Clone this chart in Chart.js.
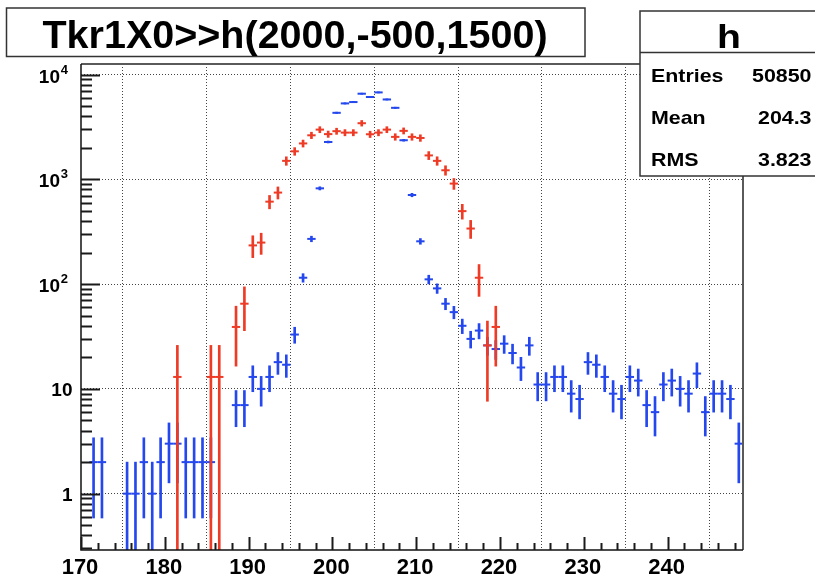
<!DOCTYPE html>
<html>
<head>
<meta charset="utf-8">
<title>Tkr1X0&gt;&gt;h(2000,-500,1500)</title>
<script src="https://cdn.jsdelivr.net/npm/chart.js@4/dist/chart.umd.min.js"></script>
<style>
  html, body { margin: 0; padding: 0; background: #fff; }
</style>
</head>
<body>
<canvas id="myChart" width="815" height="577"></canvas>
<script>
// histogram h, bins 1 unit wide, centres from 170.5 to 248.5
const binCenters = [
  170.5, 171.5, 172.5, 173.5, 174.5, 175.5, 176.5, 177.5, 178.5, 179.5,
  180.5, 181.5, 182.5, 183.5, 184.5, 185.5, 186.5, 187.5, 188.5, 189.5,
  190.5, 191.5, 192.5, 193.5, 194.5, 195.5, 196.5, 197.5, 198.5, 199.5,
  200.5, 201.5, 202.5, 203.5, 204.5, 205.5, 206.5, 207.5, 208.5, 209.5,
  210.5, 211.5, 212.5, 213.5, 214.5, 215.5, 216.5, 217.5, 218.5, 219.5,
  220.5, 221.5, 222.5, 223.5, 224.5, 225.5, 226.5, 227.5, 228.5, 229.5,
  230.5, 231.5, 232.5, 233.5, 234.5, 235.5, 236.5, 237.5, 238.5, 239.5,
  240.5, 241.5, 242.5, 243.5, 244.5, 245.5, 246.5, 247.5, 248.5
];
const binWidth = 1;

// blue: plain counts (error = sqrt(n))
const blueCounts = [
  0, 2, 2, 0, 0, 1, 1, 2, 1, 2,
  3, 3, 2, 2, 2, 2, 0, 0, 7, 7,
  13, 10, 13, 18, 17, 33, 115, 270, 820, 2270,
  4310, 5300, 5460, 6560, 6100, 6750, 5780, 4810, 2360, 708,
  256, 111, 91, 65, 54, 40, 30, 36, 26, 24,
  27, 22, 16, 26, 11, 11, 13, 13, 9, 8,
  18, 17, 13, 9, 8, 13, 12, 7, 6, 11,
  12, 10, 9, 14, 6, 9, 9, 8, 3
];

// red: weighted overlay (each entry weighs about 13)
const redCounts = [
  0, 0, 0, 0, 0, 0, 0, 0, 0, 0,
  0, 13, 0, 0, 0, 13, 13, 0, 39, 65,
  234, 249, 612, 747, 1500, 1850, 2200, 2630, 2980, 2700,
  2880, 2790, 2790, 3430, 2690, 2790, 2980, 2540, 2900, 2540,
  2480, 1690, 1500, 1220, 910, 497, 339, 115, 26, 39,
  0, 0, 0, 0, 0, 0, 0, 0, 0, 0,
  0, 0, 0, 0, 0, 0, 0, 0, 0, 0,
  0, 0, 0, 0, 0, 0, 0, 0, 0
];
const redWeight = 13;

const xLabels = ['170', '180', '190', '200', '210', '220', '230', '240'];
const xLabelValues = [170, 180, 190, 200, 210, 220, 230, 240];
const yLabelValues = [1, 10, 100, 1000, 10000];
const yLabelBase = ['1', '10', '10', '10', '10'];
const yLabelExp = ['', '', '2', '3', '4'];

const titleText = 'Tkr1X0>>h(2000,-500,1500)';
const statsName = 'h';
const statsLabels = ['Entries', 'Mean', 'RMS'];
const statsValues = ['50850', '204.3', '3.823'];

const xMin = 170, xMax = 249;
const yMin = 0.29, yMax = 12600;

const BLUE = '#2447ee';
const RED = '#ee3b26';
const FONT = '"Liberation Sans", Arial, sans-serif';

function errBars(counts, weight) {
  const out = [];
  counts.forEach((v, i) => {
    if (v <= 0) return;
    const e = Math.sqrt(weight * v);
    const lo = v - e > 0 ? v - e : yMin * 0.5;
    out.push({ x: binCenters[i], y: [lo, v + e] });
  });
  return out;
}

function binMarks(counts) {
  return counts.map((v, i) => ({ x: binCenters[i], y: v })).filter(p => p.y > 0);
}

const halfBin = c => {
  const s = c.chart.scales.x;
  return Math.abs(s.getPixelForValue(xMin + binWidth) - s.getPixelForValue(xMin)) / 2;
};

function stretchText(ctx, text, x, y, font, sx, align) {
  ctx.save();
  ctx.font = font;
  const w = ctx.measureText(text).width * sx;
  const x0 = align === 'center' ? x - w / 2 : align === 'right' ? x - w : x;
  ctx.translate(x0, y);
  ctx.scale(sx, 1);
  ctx.textAlign = 'left';
  ctx.textBaseline = 'alphabetic';
  ctx.fillText(text, 0, 0);
  ctx.restore();
}

const rootDecor = {
  id: 'rootDecor',
  beforeDraw(chart) {
    const ctx = chart.ctx;
    ctx.save();
    ctx.fillStyle = '#fff';
    ctx.fillRect(0, 0, chart.width, chart.height);
    ctx.restore();
  },
  afterDraw(chart) {
    const ctx = chart.ctx;
    const { left, right, top, bottom } = chart.chartArea;
    const xs = chart.scales.x, ys = chart.scales.y;
    ctx.save();

    // frame
    ctx.lineWidth = 2;
    ctx.strokeStyle = '#5a5a5a';
    ctx.beginPath();
    ctx.moveTo(left, top); ctx.lineTo(right, top); ctx.lineTo(right, bottom);
    ctx.stroke();
    ctx.lineWidth = 1.5;
    ctx.strokeStyle = '#111';
    ctx.beginPath();
    ctx.moveTo(left, top); ctx.lineTo(left, bottom); ctx.lineTo(right, bottom);
    ctx.stroke();

    // ticks, drawn inside the frame
    ctx.lineWidth = 2;
    ctx.strokeStyle = '#1a1a1a';
    ctx.beginPath();
    for (let v = xMin; v <= xMax; v += 2) {
      const px = Math.round(xs.getPixelForValue(v)) + 0.5;
      const len = v % 10 === 0 ? 13 : 7;
      ctx.moveTo(px, bottom); ctx.lineTo(px, bottom - len);
    }
    for (let dec = 0.1; dec <= 10000; dec *= 10) {
      for (let m = 1; m <= 9; m++) {
        const v = m * dec;
        if (v < yMin || v > yMax) continue;
        const py = Math.round(ys.getPixelForValue(v)) + 0.5;
        const len = m === 1 ? 19 : 11;
        ctx.moveTo(left, py); ctx.lineTo(left + len, py);
      }
    }
    ctx.stroke();

    // tick labels
    ctx.fillStyle = '#000';
    ctx.font = 'bold 22px ' + FONT;
    ctx.textAlign = 'center';
    ctx.textBaseline = 'alphabetic';
    xLabelValues.forEach((v, i) => {
      ctx.fillText(xLabels[i], xs.getPixelForValue(v) - 1, 573.5);
    });
    ctx.textAlign = 'right';
    yLabelValues.forEach((v, i) => {
      const py = ys.getPixelForValue(v);
      if (yLabelExp[i] === '') {
        ctx.font = 'bold 19px ' + FONT;
        ctx.fillText(yLabelBase[i], 72.5, py + 7);
      } else {
        ctx.font = 'bold 13px ' + FONT;
        ctx.fillText(yLabelExp[i], 68, py - 1);
        ctx.font = 'bold 19px ' + FONT;
        ctx.fillText(yLabelBase[i], 60, py + 8);
      }
    });

    // title box
    ctx.fillStyle = '#fff';
    ctx.fillRect(6.5, 8, 578.5, 48.5);
    ctx.lineWidth = 1.5;
    ctx.strokeStyle = '#333';
    ctx.strokeRect(6.5, 8, 578.5, 48.5);
    ctx.fillStyle = '#000';
    stretchText(ctx, titleText, 295, 47.5, 'bold 39.5px ' + FONT, 1.0, 'center');

    // stats box
    ctx.fillStyle = '#fff';
    ctx.fillRect(640, 11, 180, 165);
    ctx.strokeStyle = '#333';
    ctx.strokeRect(640, 11, 180, 165);
    ctx.beginPath();
    ctx.moveTo(640, 52.5); ctx.lineTo(815, 52.5);
    ctx.stroke();
    ctx.fillStyle = '#000';
    stretchText(ctx, statsName, 729, 48, 'bold 34px ' + FONT, 1.15, 'center');
    const rowBase = [81.5, 123.5, 165.5];
    statsLabels.forEach((s, i) => {
      stretchText(ctx, s, 651, rowBase[i], 'bold 18.6px ' + FONT, 1.15, 'left');
      stretchText(ctx, statsValues[i], 811.5, rowBase[i], 'bold 18.6px ' + FONT, 1.15, 'right');
    });

    ctx.restore();
  }
};

const ctx = document.getElementById('myChart').getContext('2d');

const chart = new Chart(ctx, {
  type: 'scatter',
  data: {
    datasets: [
      {
        type: 'bar',
        data: errBars(blueCounts, 1),
        backgroundColor: BLUE,
        barThickness: 2,
        grouped: false,
        order: 3
      },
      {
        type: 'scatter',
        data: binMarks(blueCounts),
        showLine: false,
        pointStyle: 'line',
        pointRadius: halfBin,
        pointBorderColor: BLUE,
        pointBorderWidth: 2,
        order: 2
      },
      {
        type: 'bar',
        data: errBars(redCounts, redWeight),
        backgroundColor: RED,
        barThickness: 2,
        grouped: false,
        order: 1
      },
      {
        type: 'scatter',
        data: binMarks(redCounts),
        showLine: false,
        pointStyle: 'line',
        pointRadius: halfBin,
        pointBorderColor: RED,
        pointBorderWidth: 2,
        order: 0
      }
    ]
  },
  options: {
    responsive: false,
    animation: false,
    devicePixelRatio: 1,
    events: [],
    layout: { padding: { top: 64, right: 72, left: 0, bottom: 0 } },
    plugins: {
      legend: { display: false },
      tooltip: { enabled: false },
      title: { display: false }
    },
    scales: {
      x: {
        type: 'linear',
        min: xMin,
        max: xMax,
        offset: false,
        grid: { color: '#444', lineWidth: 1, drawTicks: false },
        border: { display: false, dash: [1, 2] },
        ticks: { display: false },
        afterBuildTicks: a => { a.ticks = xLabelValues.slice(1).map(v => ({ value: v })); },
        afterFit: a => { a.height = 27; }
      },
      y: {
        type: 'logarithmic',
        min: yMin,
        max: yMax,
        grid: { color: '#444', lineWidth: 1, drawTicks: false },
        border: { display: false, dash: [1, 2] },
        ticks: { display: false },
        afterBuildTicks: a => { a.ticks = yLabelValues.map(v => ({ value: v })); },
        afterFit: a => { a.width = 81; }
      }
    }
  },
  plugins: [rootDecor]
});
</script>
</body>
</html>
